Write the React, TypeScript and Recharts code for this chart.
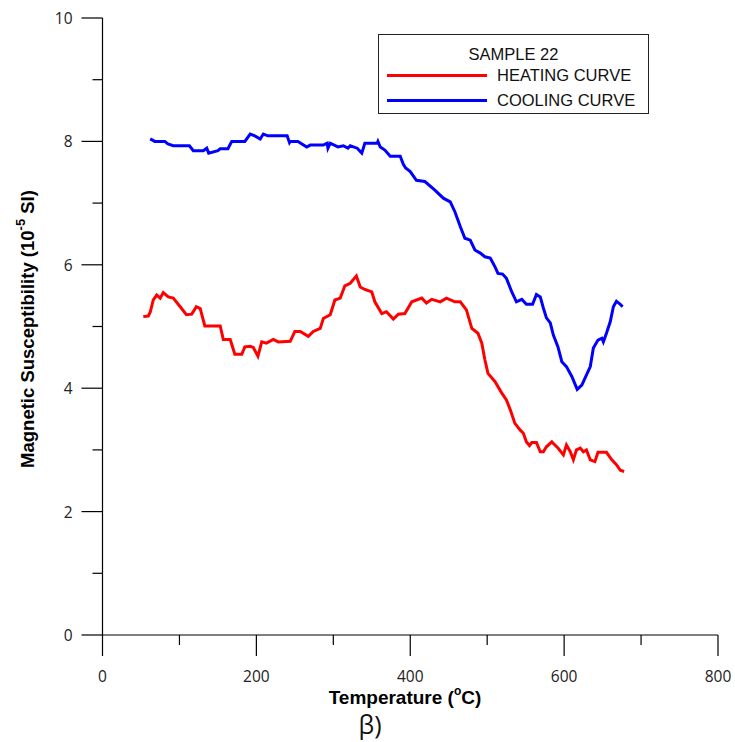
import React from "react";
import { LineChart, Line, XAxis, YAxis, Legend } from "recharts";

// heating run: temperature (°C) and susceptibility (10^-5 SI)
const heatingTemp = [
  53, 59.5, 62, 66, 70.5, 75, 79, 85.5, 92, 101, 109, 116, 122, 127, 133, 153, 157, 166, 172, 181,
  185, 192, 196, 202, 207, 213, 222, 228.5, 244, 250, 257, 267.5, 274, 283, 287, 296, 302, 309, 315,
  322, 330, 335, 341, 350, 354, 363, 369, 378, 384.5, 393, 402, 415, 421, 428, 439, 447, 458, 465,
  473, 480, 488, 493, 497, 501, 510, 519, 525, 530, 536, 543, 547, 551, 555, 558, 564, 569, 573,
  577, 584, 588, 592, 599, 603, 608, 612, 616, 621, 625, 629, 634, 640, 644, 655, 662, 668, 673, 678,
];
const heatingChi = [
  5.16, 5.17, 5.23, 5.43, 5.51, 5.46, 5.55, 5.48, 5.46, 5.32, 5.19, 5.2, 5.32, 5.29, 5.01, 5.01,
  4.79, 4.79, 4.55, 4.55, 4.67, 4.68, 4.66, 4.52, 4.75, 4.73, 4.79, 4.75, 4.76, 4.92, 4.92, 4.84,
  4.92, 4.97, 5.13, 5.19, 5.43, 5.46, 5.66, 5.7, 5.82, 5.64, 5.6, 5.56, 5.4, 5.21, 5.24, 5.12, 5.2,
  5.21, 5.4, 5.46, 5.38, 5.44, 5.4, 5.46, 5.4, 5.4, 5.27, 4.97, 4.89, 4.73, 4.46, 4.24, 4.11, 3.92,
  3.81, 3.65, 3.43, 3.32, 3.27, 3.13, 3.07, 3.12, 3.12, 2.97, 2.97, 3.05, 3.13, 3.08, 3.03, 2.92,
  3.08, 2.97, 2.84, 3.0, 3.03, 2.97, 3.0, 2.84, 2.81, 2.96, 2.96, 2.84, 2.76, 2.67, 2.65,
];

// cooling run
const coolingTemp = [
  62, 68, 81, 85, 92, 113, 118, 131, 135.5, 138, 150, 153, 163, 168, 185, 192, 198, 205, 209, 215,
  240, 243, 244, 254, 265.5, 270, 287, 292, 293, 296, 306, 313, 319, 322, 331, 337, 341, 357, 358,
  361, 367, 374, 387, 391, 394, 400, 408, 419, 432, 443, 452, 458, 465, 471, 478, 484, 491, 497,
  504, 510, 514, 520, 525, 532, 538, 545, 551, 559, 564, 569, 573, 577, 582, 586, 592, 597, 603,
  610, 617, 623, 627, 634, 638, 644, 649, 651, 655, 660, 664, 668, 673, 676,
];
const coolingChi = [
  8.04, 8.0, 8.0, 7.96, 7.93, 7.93, 7.85, 7.85, 7.89, 7.81, 7.85, 7.88, 7.88, 8.0, 8.0, 8.12, 8.09,
  8.04, 8.12, 8.09, 8.09, 7.98, 8.0, 8.0, 7.91, 7.94, 7.94, 7.97, 7.89, 7.97, 7.91, 7.93, 7.89,
  7.93, 7.89, 7.81, 7.97, 7.97, 8.0, 7.91, 7.86, 7.76, 7.76, 7.63, 7.57, 7.51, 7.37, 7.35, 7.21,
  7.08, 7.02, 6.86, 6.62, 6.43, 6.4, 6.24, 6.19, 6.13, 6.11, 5.97, 5.86, 5.85, 5.78, 5.56, 5.4,
  5.44, 5.36, 5.36, 5.52, 5.48, 5.3, 5.14, 5.06, 4.86, 4.67, 4.43, 4.35, 4.19, 3.98, 4.05, 4.16,
  4.35, 4.65, 4.78, 4.81, 4.75, 4.89, 5.08, 5.32, 5.41, 5.36, 5.32,
];

const seriesNames = ["HEATING CURVE", "COOLING CURVE"];

const xTicks = [0, 100, 200, 300, 400, 500, 600, 700, 800];
const xLabelled = [0, 200, 400, 600, 800];
const yTicks = [0, 1, 2, 3, 4, 5, 6, 7, 8, 9, 10];
const yLabelled = [0, 2, 4, 6, 8, 10];

const heating = heatingTemp.map((t, i) => ({ t, chi: heatingChi[i] }));
const cooling = coolingTemp.map((t, i) => ({ t, chi: coolingChi[i] }));

const tickFont = "'Open Sans', sans-serif";
const titleFont = "'Liberation Sans', Arial, sans-serif";

function XTick({ x, y, payload }: any) {
  const major = xLabelled.includes(payload.value);
  return (
    <g>
      <line x1={x} x2={x} y1={y} y2={y + (major ? 21 : 10)} stroke="#000" strokeWidth={1.2} />
      {major && (
        <text x={x} y={y + 41} textAnchor="middle" dominantBaseline="central" fontFamily={tickFont} fontSize={15.5} fill="#222">
          {payload.value}
        </text>
      )}
    </g>
  );
}

function YTick({ x, y, payload }: any) {
  const major = yLabelled.includes(payload.value);
  return (
    <g>
      <line x1={x} x2={x - (major ? 21 : 10)} y1={y} y2={y} stroke="#000" strokeWidth={1.2} />
      {major && (
        <text x={x - 30} y={y} textAnchor="end" dominantBaseline="central" fontFamily={tickFont} fontSize={15.5} fill="#222">
          {payload.value}
        </text>
      )}
    </g>
  );
}

function YTitle() {
  return (
    <text
      transform="translate(27,329) rotate(-90)"
      textAnchor="middle"
      dominantBaseline="central"
      fontFamily={titleFont}
      fontWeight="bold"
      fontSize={18.5}
      fill="#000"
    >
      Magnetic Susceptibility (10
      <tspan dy={-7} fontSize={13}>-5</tspan>
      <tspan dy={7}> SI)</tspan>
    </text>
  );
}

function XTitle() {
  return (
    <g>
      <text x={405} y={697} textAnchor="middle" dominantBaseline="central" fontFamily={titleFont} fontWeight="bold" fontSize={19} fill="#000">
        Temperature (
        <tspan dy={-6} fontSize={12}>o</tspan>
        <tspan dy={6}>C)</tspan>
      </text>
      <text x={370} y={724} textAnchor="middle" dominantBaseline="central" fontFamily={tickFont} fontSize={25} fill="#111">
        β)
      </text>
    </g>
  );
}

function LegendBox({ payload }: any) {
  const items = [...(payload || [])].sort(
    (a: any, b: any) => seriesNames.indexOf(a.value) - seriesNames.indexOf(b.value)
  );
  return (
    <div
      style={{
        width: 271,
        height: 80,
        boxSizing: "border-box",
        border: "1px solid #222",
        background: "#fff",
        position: "relative",
        fontFamily: titleFont,
        fontSize: 16.5,
        color: "#111",
      }}
    >
      <div style={{ position: "absolute", left: 0, right: 0, top: 9, lineHeight: "20px", textAlign: "center" }}>
        SAMPLE 22
      </div>
      {items.map((p: any, i: number) => (
        <div
          key={p.value}
          style={{ position: "absolute", left: 8, top: 30 + i * 25, height: 20, display: "flex", alignItems: "center" }}
        >
          <span style={{ display: "inline-block", width: 100, height: 3, background: p.color }} />
          <span style={{ marginLeft: 10, whiteSpace: "nowrap" }}>{p.value}</span>
        </div>
      ))}
    </div>
  );
}

export default function App() {
  return (
    <div style={{ position: "absolute", left: 0, top: 0, width: 735, height: 742, background: "#fff" }}>
      <LineChart width={735} height={742} margin={{ top: 18, right: 17, bottom: 47, left: 2.5 }}>
        <XAxis
          dataKey="t"
          type="number"
          domain={[0, 800]}
          ticks={xTicks}
          interval={0}
          tickSize={0}
          tickMargin={0}
          tickLine={false}
          tick={<XTick />}
          height={60}
          axisLine={{ stroke: "#000", strokeWidth: 1.2 }}
          label={<XTitle />}
        />
        <YAxis
          type="number"
          domain={[0, 10]}
          ticks={yTicks}
          interval={0}
          tickSize={0}
          tickMargin={0}
          tickLine={false}
          tick={<YTick />}
          width={100}
          axisLine={{ stroke: "#000", strokeWidth: 1.2 }}
          label={<YTitle />}
        />
        <Legend
          layout="vertical"
          align="center"
          verticalAlign="middle"
          content={<LegendBox />}
          wrapperStyle={{ left: 378, top: 34, width: 271, height: 80 }}
        />
        <Line
          data={heating}
          dataKey="chi"
          name={seriesNames[0]}
          type="linear"
          stroke="#ff0000"
          strokeWidth={3}
          dot={false}
          activeDot={false}
          isAnimationActive={false}
        />
        <Line
          data={cooling}
          dataKey="chi"
          name={seriesNames[1]}
          type="linear"
          stroke="#0000ff"
          strokeWidth={3}
          dot={false}
          activeDot={false}
          isAnimationActive={false}
        />
      </LineChart>
    </div>
  );
}
